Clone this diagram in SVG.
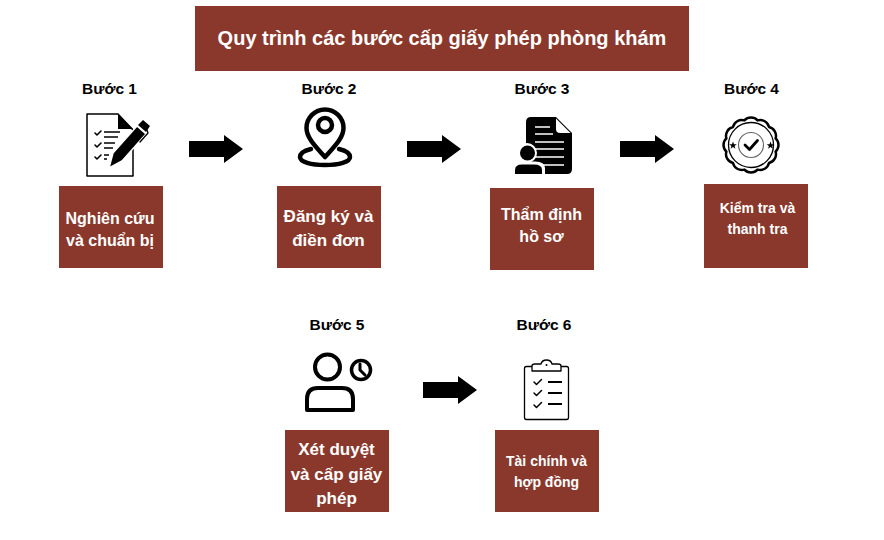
<svg xmlns="http://www.w3.org/2000/svg" width="884" height="540" viewBox="0 0 884 540">
<style>
text{font-family:"Liberation Sans",Arial,sans-serif;font-weight:700;text-anchor:middle}
.t{fill:#000;font-size:15.500px}
.w{fill:#fff;font-size:17px}
.s{fill:#fff;font-size:14px}
.b{fill:#8a382c}
.o{fill:none;stroke:#000;stroke-linecap:round;stroke-linejoin:round}
</style>
<defs>
<polygon id="arr" points="0,-8 35,-8 35,-14 54,0 35,14 35,8 0,8" fill="#000"/>
<polygon id="star" points="0,-4 1,-1.300 3.800,-1.300 1.600,0.500 2.400,3.200 0,1.600 -2.400,3.200 -1.600,0.500 -3.800,-1.300 -1,-1.300" fill="#000"/>
</defs>
<rect width="884" height="540" fill="#fff"/>
<g id="title"><rect class="b" x="195" y="6" width="494" height="65"/><text x="442" y="45" style="fill:#fff;font-size:20px">Quy trình các bước cấp giấy phép phòng khám</text></g>
<g id="connectors">
<use href="#arr" x="189" y="149"/><use href="#arr" x="407" y="149"/><use href="#arr" x="620" y="149"/><use href="#arr" x="423" y="390"/>
</g>
<g id="step1"><text class="t" x="109.500" y="94">Bước 1</text>
<path class="o" stroke-width="1.500" d="M87 114H118L133 130V176H87Z"/><path d="M118 114V129H133Z" fill="#000"/>
<path class="o" stroke-width="1.600" d="M95 133l2 2 4-4M95 145l2 2 4-4M95 157l2 2 4-4"/>
<path d="M104 132H120M104 137H118M104 143H115M104 148H113M104 155H109M104 159H107" stroke="#000" stroke-width="1.300"/>
<path d="M109 168L113 153 137 126 146 134 122 161Z" fill="#000" stroke="#fff" stroke-width="1.500"/>
<path d="M138 125L143 120 150 126 146 132Z" fill="#000"/>
<path d="M147 130L148 133 140 142" class="o" stroke-width="1.300"/>
<rect class="b" x="59" y="186" width="104" height="82"/><text class="s" style="font-size:16px" x="110" y="224">Nghiên cứu</text><text class="s" style="font-size:16px" x="110" y="246">và chuẩn bị</text></g>
<g id="step2"><text class="t" x="329" y="94">Bước 2</text>
<path class="o" stroke-width="4.500" d="M325 157C316 147 306.500 138 306.500 128A18.500 18.500 0 0 1 343.500 128C343.500 138 334 147 325 157Z"/>
<circle class="o" stroke-width="4.500" cx="325" cy="125" r="7"/>
<path class="o" stroke-width="4.500" d="M311 149C303 151 300 154 300 157C300 162 311 165 325 165C339 165 350 162 350 157C350 154 347 151 339 149"/>
<rect class="b" x="277" y="186" width="104" height="82"/><text class="w" x="328.500" y="222">Đăng ký và</text><text class="w" x="328.500" y="245.500">điền đơn</text></g>
<g id="step3"><text class="t" x="542" y="94">Bước 3</text>
<path d="M531 117H556L572 133V169Q572 174 567 174H531Q526 174 526 169V122Q526 117 531 117Z" fill="#000"/>
<path d="M556 118.500L570.500 133H560Q556 133 556 129Z" fill="#fff"/>
<path d="M535 127H550M535 134H553M535 142H564M535 149H564M535 157H564M535 165H564" stroke="#fff" stroke-width="1.500" fill="none"/>
<circle cx="527" cy="153" r="10" fill="#fff"/>
<path d="M513 176V168Q513 161.500 522 161.500H535Q545 161.500 545 168V176Z" fill="#fff"/>
<circle cx="527.500" cy="153" r="7.500" fill="#000"/><path d="M515 174V170Q515 164.500 522 164.500H534Q542 164.500 542 170V174Z" fill="#000"/>
<rect class="b" x="490" y="188" width="104" height="82"/><text class="s" style="font-size:16px" x="541.500" y="220">Thẩm định</text><text class="s" style="font-size:16px" x="541.500" y="242">hồ sơ</text></g>
<g id="step4"><text class="t" x="751.500" y="94">Bước 4</text>
<path class="o" stroke-width="2.500" d="M757.600 120.400A9 9 0 0 1 769 127A9 9 0 0 1 775.600 138.400A9 9 0 0 1 775.600 151.600A9 9 0 0 1 769 163A9 9 0 0 1 757.600 169.600A9 9 0 0 1 744.400 169.600A9 9 0 0 1 733 163A9 9 0 0 1 726.400 151.600A9 9 0 0 1 726.400 138.400A9 9 0 0 1 733 127A9 9 0 0 1 744.400 120.400A9 9 0 0 1 757.600 120.400Z"/>
<circle fill="none" stroke="#000" stroke-width="1.300" cx="751" cy="145" r="22.500"/>
<circle fill="none" stroke="#666" stroke-width="1.200" cx="751" cy="145" r="12.500"/>
<path class="o" stroke-width="2.800" d="M745 145l4.500 4.500 8-9"/>
<use href="#star" x="733" y="145.500"/><use href="#star" x="770.500" y="145.500"/>
<rect class="b" x="704" y="184" width="104" height="84"/><text class="s" x="757.500" y="213">Kiểm tra và</text><text class="s" x="757.500" y="234">thanh tra</text></g>
<g id="step5"><text class="t" x="337" y="330">Bước 5</text>
<circle class="o" stroke-width="4" cx="327.500" cy="367" r="12.500"/><path stroke="#000" fill="none" stroke-width="4" stroke-linejoin="round" d="M307 410V399Q307 388 318 388H342Q353 388 353 399V410Z"/>
<circle class="o" stroke-width="3.500" cx="361" cy="370" r="9.500"/><path class="o" stroke-width="3" d="M360 364V370L365 375"/>
<rect class="b" x="285" y="430" width="104" height="82"/><text class="w" x="336.500" y="455">Xét duyệt</text><text class="w" x="336.500" y="480">và cấp giấy</text><text class="w" x="336.500" y="504">phép</text></g>
<g id="step6"><text class="t" x="544" y="330">Bước 6</text>
<rect class="o" stroke-width="1.300" x="524.500" y="366.500" width="44" height="53" rx="2"/>
<path stroke="#000" fill="#fff" stroke-linejoin="round" stroke-width="1.300" d="M532 371V366Q532 364 535 364H541Q542 360 546.500 360Q551 360 552 364H558Q561 364 561 366V371Z"/>
<circle cx="546.500" cy="365" r="1" fill="#000"/>
<path class="o" stroke-width="1.500" d="M534 382l2.500 2.500 5-5M534 393l2.500 2.500 5-5M534 405l2.500 2.500 5-5"/>
<path d="M548 382H562M548 393H562M548 404H562" stroke="#000" stroke-width="1.800"/>
<rect class="b" x="495" y="430" width="104" height="82"/><text class="s" x="546.500" y="466">Tài chính và</text><text class="s" x="546.500" y="486.500">hợp đồng</text></g>
</svg>
